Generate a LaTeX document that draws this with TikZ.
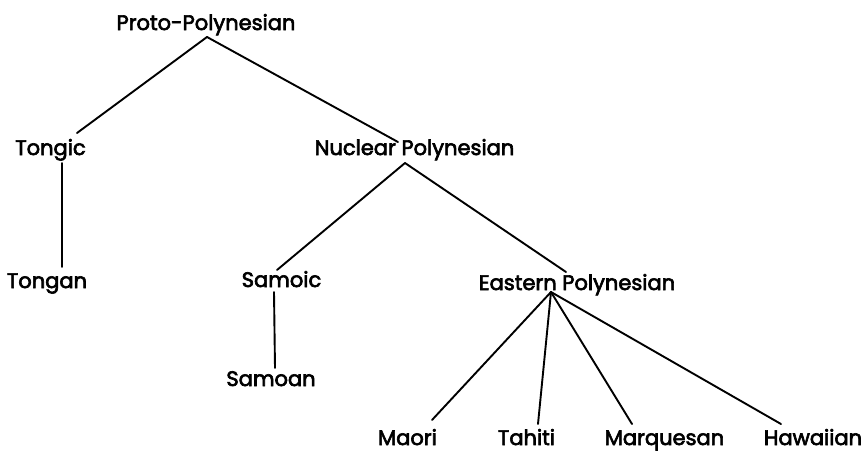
\documentclass[tikz,border=0pt]{standalone}
\usepackage{fontspec}
\setmainfont{Poppins}[BoldFont=Poppins,BoldFeatures={FakeBold=3}]
\begin{document}
\begin{tikzpicture}[x=1pt,y=-1pt,
  lbl/.style={anchor=base,inner sep=0pt,font=\fontsize{21}{24}\selectfont\bfseries},
  edge/.style={line width=1.9pt,line cap=round}]
\useasboundingbox (0,0) rectangle (868,453);
% labels
\node[lbl] (pp) at (206,30) {Proto-Polynesian};
\node[lbl] (tongic) at (50.5,155) {Tongic};
\node[lbl] (np) at (414.5,155) {Nuclear Polynesian};
\node[lbl] (tongan) at (47,288) {Tongan};
\node[lbl] (samoic) at (281.5,287) {Samoic};
\node[lbl] (ep) at (577,290) {Eastern Polynesian};
\node[lbl] (samoan) at (271,386) {Samoan};
\node[lbl] (maori) at (407.5,445) {Maori};
\node[lbl] (tahiti) at (526.5,445) {Tahiti};
\node[lbl] (marq) at (664.5,445) {Marquesan};
\node[lbl] (haw) at (813,445) {Hawaiian};
% connector end points
\coordinate (ppB) at (207,37);
\coordinate (tongicT) at (77,133);
\coordinate (tongicB) at (62,163);
\coordinate (tonganT) at (62,267);
\coordinate (npT) at (398,142);
\coordinate (npB) at (405,163);
\coordinate (samoicT) at (277,270);
\coordinate (samoicB) at (274,292);
\coordinate (samoanT) at (275,368);
\coordinate (epT) at (566,272);
\coordinate (epB) at (551,292);
\coordinate (maoriT) at (432,420);
\coordinate (tahitiT) at (538,424);
\coordinate (marqT) at (632,424);
\coordinate (hawT) at (781,424);
% connectors
\draw[edge] (ppB) -- (tongicT);
\draw[edge] (ppB) -- (npT);
\draw[edge] (tongicB) -- (tonganT);
\draw[edge] (npB) -- (samoicT);
\draw[edge] (npB) -- (epT);
\draw[edge] (samoicB) -- (samoanT);
\draw[edge] (epB) -- (maoriT);
\draw[edge] (epB) -- (tahitiT);
\draw[edge] (epB) -- (marqT);
\draw[edge] (epB) -- (hawT);
\end{tikzpicture}
\end{document}
